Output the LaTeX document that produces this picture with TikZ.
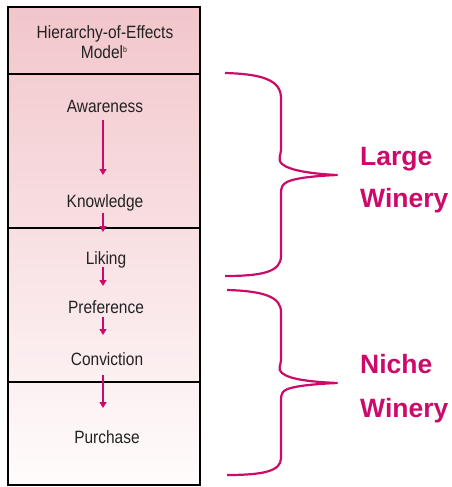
\documentclass[tikz,border=0pt]{standalone}
\usepackage{fontspec}
\setmainfont{Liberation Sans}
\newfontfamily\narrowfont[FakeStretch=0.87]{Liberation Sans}
\usetikzlibrary{arrows.meta}
\definecolor{wine}{HTML}{CC0A69}
\definecolor{pinktop}{HTML}{F2C6CB}
\definecolor{pinkbot}{HTML}{FFFCFC}
\definecolor{ink}{HTML}{222222}
\begin{document}
\begin{tikzpicture}[x=1pt,y=-1pt,
  stage/.style={font=\narrowfont\fontsize{17.8}{20}\selectfont, text=ink, inner sep=0pt, anchor=base},
  flow/.style={draw=wine, line width=1.4pt, -{Triangle[length=6pt,width=7pt]}},
  brace/.style={draw=wine, line width=2.2pt, line join=round},
  frame/.style={draw=black, line width=2.5pt},
  tag/.style={font=\bfseries\fontsize{26.5}{28}\selectfont, text=wine, inner sep=0pt, anchor=base west}]
\useasboundingbox (0,0) rectangle (451,487);

% shaded column with its four sections
\shade[top color=pinktop, bottom color=pinkbot] (8,7) rectangle (200,485);
\draw[frame] (8,74) -- (200,74);
\draw[frame] (8,228) -- (200,228);
\draw[frame] (8,382) -- (200,382);
\draw[frame] (8,7) rectangle (200,485);

% column heading
\node[stage] (hd1) at (105,39) {Hierarchy-of-Effects};
\node[stage] (hd2) at (104,59) {Model{\fontsize{8}{8}\selectfont\raisebox{6pt}{b}}};

% stages
\node[stage] (aw) at (105,112) {Awareness};
\node[stage] (kn) at (105,207) {Knowledge};
\node[stage] (li) at (106,264) {Liking};
\node[stage] (pr) at (106,313) {Preference};
\node[stage] (co) at (107,365) {Conviction};
\node[stage] (pu) at (107,443) {Purchase};

% stage-to-stage arrows
\draw[flow] ([shift={(-2,8)}]aw.base) -- ([shift={(-2,-32)}]kn.base);
\draw[flow] ([shift={(-2,6)}]kn.base) -- ([shift={(-3,-32)}]li.base);
\draw[flow] ([shift={(-3,3)}]li.base) -- ([shift={(-3,-27)}]pr.base);
\draw[flow] ([shift={(-3,4)}]pr.base) -- ([shift={(-4,-30)}]co.base);
\draw[flow] ([shift={(-4,10)}]co.base) -- ([shift={(-4,-35)}]pu.base);

% braces
\draw[brace] (225,73) .. controls (262,74) and (281,80) .. (281,98)
  -- (281,150) .. controls (281,155) and (277,159) .. (282,164)
  .. controls (290,171) and (315,174) .. (337,175)
  .. controls (315,176) and (290,178) .. (284,184)
  .. controls (281,187) and (281,190) .. (281,196)
  -- (281,256) .. controls (281,272) and (262,276) .. (225,276);
\draw[brace] (227,290) .. controls (264,291) and (281,297) .. (281,312)
  -- (281,360) .. controls (281,365) and (277,369) .. (282,373)
  .. controls (290,380) and (315,382) .. (337,383)
  .. controls (315,384) and (290,386) .. (284,391)
  .. controls (281,394) and (281,397) .. (281,402)
  -- (281,458) .. controls (281,471) and (264,475) .. (227,475);

% brace labels
\node[tag] (lg1) at (360,165) {Large};
\node[tag] (lg2) at (360,207) {Winery};
\node[tag] (ni1) at (360,373) {Niche};
\node[tag] (ni2) at (360,417) {Winery};
\end{tikzpicture}
\end{document}
